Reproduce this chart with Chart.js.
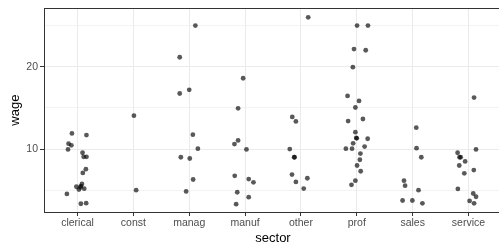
<!DOCTYPE html>
<html>
<head>
<meta charset="utf-8">
<script src="https://cdn.jsdelivr.net/npm/chart.js@4"></script>
<style>
  html, body { margin: 0; padding: 0; overflow: hidden; background: #fff; }
</style>
</head>
<body>
<canvas id="wageChart" width="502" height="248"></canvas>
<script>
// categories
const sectors = ["clerical", "const", "manag", "manuf", "other", "prof", "sales", "service"];

// wage values per sector, with the horizontal jitter
const wageClerical = [11.9, 11.7, 10.65, 10.45, 9.95, 9.55, 9.05, 9.05, 7.55, 7.1, 5.42, 5.07, 5.75, 5.19, 5.5, 5.34, 4.55, 3.35, 3.42];
const jitClerical  = [-0.10, 0.16, -0.16, -0.11, -0.17, 0.09, 0.11, 0.16, 0.15, 0.095, -0.02, 0.025, 0.08, 0.12, 0.06, 0.05, -0.19, 0.06, 0.155];

const wageConst = [14.05, 5.0];
const jitConst  = [0.01, 0.05];

const wageManag = [25.0, 21.15, 17.2, 16.75, 11.75, 10.05, 9.0, 8.85, 6.3, 4.85];
const jitManag  = [0.11, -0.17, 0.0, -0.17, 0.065, 0.155, -0.15, 0.01, 0.07, -0.055];

const wageManuf = [18.6, 14.95, 11.05, 10.6, 9.95, 6.75, 6.35, 5.95, 4.75, 4.15, 3.3];
const jitManuf  = [-0.035, -0.125, -0.125, -0.19, 0.025, -0.185, 0.065, 0.15, -0.14, 0.065, -0.16];

const wageOther = [26.0, 13.9, 13.35, 10.0, 9.0, 9.0, 6.9, 6.45, 6.0, 5.2];
const jitOther  = [0.13, -0.155, -0.09, -0.2, -0.12, -0.115, -0.16, 0.115, -0.09, 0.05];

const wageProf = [25.0, 25.0, 22.15, 22.0, 19.95, 16.45, 15.85, 15.05, 13.4, 13.65, 12.05, 11.35, 11.3, 11.25,
                  10.7, 10.05, 10.05, 10.3, 9.45, 8.7, 8.0, 7.3, 6.15, 5.65];
const jitProf  = [0.005, 0.2, -0.05, 0.16, -0.07, -0.165, 0.04, -0.025, -0.155, 0.11, -0.025, -0.01, 0.0, 0.195,
                  -0.065, -0.195, -0.085, 0.14, 0.065, 0.055, 0.005, 0.07, -0.025, -0.095];

const wageSales = [12.6, 10.1, 9.0, 6.15, 5.55, 5.0, 3.75, 3.75, 3.4];
const jitSales  = [0.065, 0.07, 0.155, -0.155, -0.135, 0.105, -0.18, -0.005, 0.175];

const wageService = [16.25, 9.95, 9.55, 9.0, 9.0, 8.5, 8.0, 7.45, 7.05, 5.15, 4.6, 4.2, 3.7, 3.4];
const jitService  = [0.1, 0.135, -0.195, -0.16, -0.14, -0.06, -0.165, 0.095, -0.075, -0.19, 0.085, 0.135, 0.02, 0.1];

// y ticks (labels only on the major ones)
const yTicks = [5, 10, 15, 20, 25];
const yLabels = [10, 20];

const wages = [wageClerical, wageConst, wageManag, wageManuf, wageOther, wageProf, wageSales, wageService];
const jitters = [jitClerical, jitConst, jitManag, jitManuf, jitOther, jitProf, jitSales, jitService];

const points = [];
wages.forEach(function (arr, i) {
  arr.forEach(function (w, j) {
    points.push({ x: i + 1 + jitters[i][j], y: w });
  });
});

const font = "'Liberation Sans', Arial, sans-serif";

// top edge of the panel border
const panelTop = {
  id: "panelTop",
  afterDraw(chart) {
    const a = chart.chartArea;
    const ctx = chart.ctx;
    ctx.save();
    ctx.strokeStyle = "#333333";
    ctx.lineWidth = 1;
    ctx.beginPath();
    ctx.moveTo(a.left, Math.round(a.top) + 0.5);
    ctx.lineTo(a.right, Math.round(a.top) + 0.5);
    ctx.stroke();
    ctx.restore();
  },
};

const ctx = document.getElementById("wageChart").getContext("2d");
const myChart = new Chart(ctx, {
  type: "scatter",
  data: {
    datasets: [{
      data: points,
      backgroundColor: "rgba(0,0,0,0.65)",
      borderWidth: 0,
      pointRadius: 2.4,
      pointHoverRadius: 2.4,
    }],
  },
  options: {
    responsive: false,
    animation: false,
    layout: { padding: { top: 5, left: 0, right: 0, bottom: 0 }, autoPadding: false },
    plugins: { legend: { display: false }, tooltip: { enabled: false } },
    scales: {
      x: {
        type: "linear",
        min: 0.4,
        max: 8.6,
        afterBuildTicks: (scale) => { scale.ticks = sectors.map((s, i) => ({ value: i + 1 })); },
        afterFit: (scale) => { scale.height = 36; },
        ticks: {
          callback: (v) => sectors[Math.round(v) - 1],
          color: "#4D4D4D",
          font: { family: font, size: 10.5 },
          padding: 1,
          maxRotation: 0,
          autoSkip: false,
        },
        grid: { color: "#EBEBEB", lineWidth: 1, tickColor: "#333333", tickLength: 4 },
        border: { color: "#333333", width: 1 },
        title: {
          display: true,
          text: "sector",
          color: "#000000",
          font: { family: font, size: 13 },
          padding: { top: 0, bottom: 2 },
        },
      },
      y: {
        min: 2.35,
        max: 27.1,
        afterBuildTicks: (scale) => { scale.ticks = yTicks.map((v) => ({ value: v })); },
        afterFit: (scale) => { scale.width = 44; },
        ticks: {
          callback: (v) => (yLabels.includes(v) ? String(v) : ""),
          color: "#4D4D4D",
          font: { family: font, size: 10.5 },
          padding: 2,
        },
        grid: {
          color: "#EBEBEB",
          lineWidth: (c) => (c.tick && yLabels.includes(c.tick.value) ? 1 : 0.6),
          tickColor: (c) => (c.tick && yLabels.includes(c.tick.value) ? "#333333" : "rgba(0,0,0,0)"),
          tickLength: 4,
        },
        border: { color: "#333333", width: 1 },
        title: {
          display: true,
          text: "wage",
          color: "#000000",
          font: { family: font, size: 13 },
          padding: { top: 8, bottom: 0 },
        },
      },
    },
  },
  plugins: [panelTop],
});
</script>
</body>
</html>
